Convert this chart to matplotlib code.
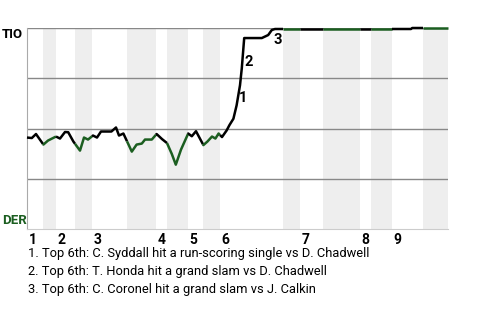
import matplotlib
matplotlib.use("Agg")
import matplotlib.pyplot as plt
import numpy as np

# win probability for TIO, by play index
plays = [0, 1.2, 2.25, 4.1, 5.25, 7.25, 8.25, 9.5, 10.3, 11.6, 13.25, 14.25,
         15.25, 16.5, 17.5, 18.5, 21.1, 22.25, 23.0, 24.1, 26.2, 27.4, 28.7,
         29.5, 31.2, 32.4, 33.75, 35.0, 36.2, 37.2, 38.5, 40.3, 41.2, 42.25,
         44.1, 45.1, 46.25, 47.1, 47.9, 48.75, 49.9, 50.6, 51.6, 52.4, 53.25,
         53.7, 54.1, 54.3, 58.7, 60.3, 61.2, 62.0, 96.0, 96.3, 105.25]
wp = [0.455, 0.4525, 0.4725, 0.42, 0.44, 0.46, 0.45, 0.4825, 0.4815, 0.435,
      0.39, 0.455, 0.445, 0.465, 0.455, 0.485, 0.485, 0.505, 0.465, 0.475,
      0.385, 0.42, 0.425, 0.445, 0.445, 0.4725, 0.4475, 0.4275, 0.3735, 0.32,
      0.395, 0.475, 0.4615, 0.4865, 0.4175, 0.435, 0.46, 0.45, 0.475, 0.4575,
      0.49, 0.5165, 0.5485, 0.615, 0.715, 0.80, 0.90, 0.95, 0.95, 0.965,
      0.99, 0.995, 0.995, 1.0, 1.0]

# half-inning boundaries (top starts, bottom starts) in play index
half_innings = [0, 4.0, 7.25, 12.0, 16.25, 25.0, 32.25, 35.0, 40.25, 44.0,
                48.25, 64.0, 68.25, 74.0, 83.25, 86.0, 91.25, 99.0, 105.25]
innings = ["1", "2", "3", "4", "5", "6", "7", "8", "9"]

events = [(53.0, 0.65, "1"), (54.4, 0.83, "2"), (61.6, 0.94, "3")]
notes = [
    "1. Top 6th: C. Syddall hit a run-scoring single vs D. Chadwell",
    "2. Top 6th: T. Honda hit a grand slam vs D. Chadwell",
    "3. Top 6th: C. Coronel hit a grand slam vs J. Calkin",
]

GREEN = "#1b5e20"

plt.rcParams["font.family"] = ["Roboto", "DejaVu Sans"]
fig = plt.figure(figsize=(4.8, 3.2), dpi=100)
ax = fig.add_axes([27 / 480, 1 - 229 / 320, 421 / 480, 201 / 320])
ax.set_xlim(half_innings[0], half_innings[-1])
ax.set_ylim(0, 1)

# shade bottom halves
for i in range(1, len(half_innings) - 1, 2):
    ax.axvspan(half_innings[i], half_innings[i + 1], color="#eeeeee", lw=0, zorder=0)

for y in [0.25, 0.5, 0.75, 1.0]:
    ax.axhline(y, color="#888888", lw=1, zorder=1)

x = np.array(plays)
v = np.array(wp)
for i in range(len(half_innings) - 1):
    a, b = half_innings[i], half_innings[i + 1]
    inside = (x > a) & (x < b)
    xs = np.concatenate([[a], x[inside], [b]])
    ys = np.interp(xs, x, v)
    ax.plot(xs, ys, color="black" if i % 2 == 0 else GREEN, lw=1.8,
            solid_capstyle="butt", zorder=3, clip_on=False)

for ex, ey, lab in events:
    ax.text(ex, ey, lab, fontsize=10.5, fontweight="bold", ha="left", va="center")

for i, lab in enumerate(innings):
    ax.text(half_innings[2 * i] + 0.4, -0.02, lab, fontsize=10, fontweight="bold",
            ha="left", va="top")

fig.text(2 / 480, 1 - 35 / 320, "TIO", fontsize=9.5, fontweight="bold",
         ha="left", va="center")
fig.text(2 / 480, 1 - 220 / 320, "DER", fontsize=9.5, fontweight="bold",
         color=GREEN, ha="left", va="center")

for spine in ["top", "right"]:
    ax.spines[spine].set_visible(False)
ax.spines["left"].set_color("#aaaaaa")
ax.spines["bottom"].set_color("#cccccc")
ax.set_xticks([])
ax.set_yticks([])

for i, line in enumerate(notes):
    fig.text(28 / 480, 1 - (254 + 17.5 * i) / 320, line, fontsize=9.3,
             ha="left", va="center")

fig.savefig("out.png", dpi=100)
